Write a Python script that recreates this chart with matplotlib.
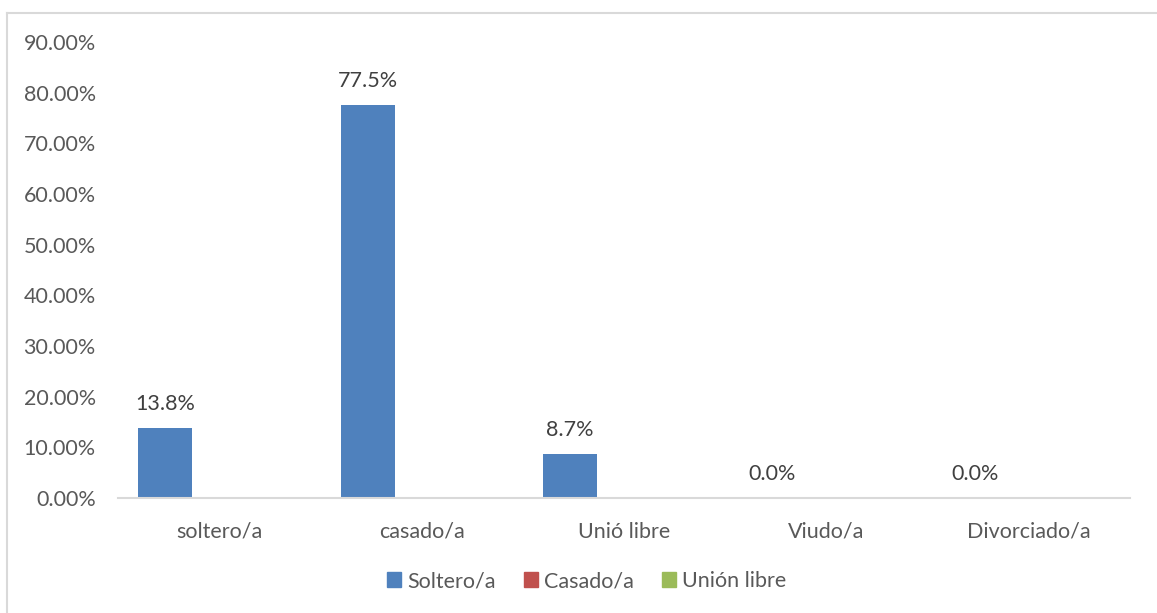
import matplotlib.pyplot as plt
from matplotlib.lines import Line2D
from matplotlib.ticker import FuncFormatter
import numpy as np

plt.rcParams['font.family'] = ['Lato', 'DejaVu Sans']

categorias = ["soltero/a", "casado/a", "Unió libre", "Viudo/a", "Divorciado/a"]
soltero = [0.138, 0.775, 0.087, 0.0, 0.0]
casado = [0.0, 0.0, 0.0, 0.0, 0.0]
union_libre = [0.0, 0.0, 0.0, 0.0, 0.0]
etiquetas = ["13.8%", "77.5%", "8.7%", "0.0%", "0.0%"]
series = ["Soltero/a", "Casado/a", "Unión libre"]
colores = ["#4f81bd", "#c0504d", "#9bbb59"]

fs = 15.5

fig = plt.figure(figsize=(11.57, 6.13), dpi=100)
ax = fig.add_axes([118 / 1157, 1 - 498 / 613, (1130 - 118) / 1157, (498 - 42) / 613])

x = np.arange(len(categorias))
w = 0.267
b0 = ax.bar(x - w, soltero, w, color=colores[0], label=series[0])
ax.bar(x, casado, w, color=colores[1], label=series[1], linewidth=0)
ax.bar(x + w, union_libre, w, color=colores[2], label=series[2], linewidth=0)

for rect, txt in zip(b0, etiquetas):
    ax.annotate(txt, (rect.get_x() + rect.get_width() / 2, rect.get_height()),
                xytext=(0, 17.5), textcoords="offset points", ha="center", va="center",
                fontsize=fs, color="#404040")

ax.set_xlim(-0.5, 4.5)
ax.set_ylim(0, 0.9)
ax.set_yticks(np.arange(0, 0.91, 0.1))
ax.yaxis.set_major_formatter(FuncFormatter(lambda v, p: f"{v * 100:.2f}%"))
ax.set_xticks(x)
ax.set_xticklabels(categorias)
ax.tick_params(axis="both", length=0, labelsize=fs, labelcolor="#595959")
ax.tick_params(axis="x", pad=17)
ax.tick_params(axis="y", pad=16)
for s in ["top", "right", "left"]:
    ax.spines[s].set_visible(False)
ax.spines["bottom"].set_color("#d9d9d9")
ax.spines["bottom"].set_linewidth(1.5)

handles = [plt.Rectangle((0, 0), 1, 1, color=c) for c in colores]
fig.legend(handles, series, loc="center", bbox_to_anchor=(0.507, 1 - 581 / 613), ncol=3,
           frameon=False, fontsize=fs, handlelength=0.65, handleheight=0.65,
           handletextpad=0.3, columnspacing=1.3, labelcolor="#595959")

# borde del gráfico (arriba e izquierda)
fig.add_artist(Line2D([6.5 / 1157, 6.5 / 1157], [0, 1 - 12.5 / 613], color="#d9d9d9", lw=1.5))
fig.add_artist(Line2D([6.5 / 1157, 1], [1 - 12.5 / 613, 1 - 12.5 / 613], color="#d9d9d9", lw=1.5))

fig.savefig("out.png", dpi=100)
